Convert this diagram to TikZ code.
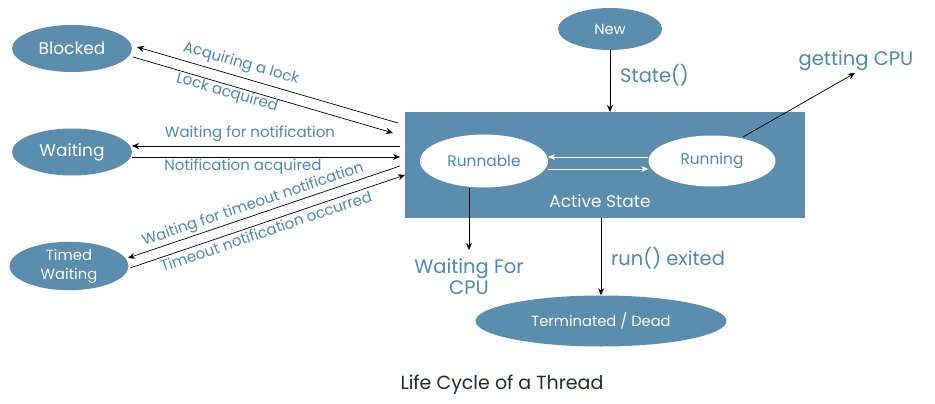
\documentclass[tikz,border=0pt]{standalone}
\usepackage{fontspec}
\setmainfont{Poppins}
\usetikzlibrary{shapes.geometric,arrows.meta}
\definecolor{stateblue}{HTML}{5B8EAE}
\definecolor{labelblue}{HTML}{4C8AB0}
\definecolor{titlecol}{HTML}{1E2B36}
\begin{document}
\begin{tikzpicture}[x=1pt,y=-1pt,
  state/.style={ellipse,fill=stateblue,text=white,inner sep=0pt,align=center,font=\fontsize{17}{19}\selectfont},
  innerstate/.style={ellipse,fill=white,text=labelblue,inner sep=0pt,font=\fontsize{15.4}{17}\selectfont},
  lbl/.style={text=labelblue,inner sep=0pt,font=\fontsize{15}{17}\selectfont},
  big/.style={text=labelblue,inner sep=0pt,align=center,font=\fontsize{19.5}{21}\selectfont},
  arr/.style={-{Stealth[length=7pt,width=6pt]},line width=0.7pt,draw=black},
  warr/.style={-{Stealth[length=7pt,width=6pt]},line width=0.7pt,draw=white}]
\useasboundingbox[fill=white] (0,0) rectangle (935,404);

% active box
\node[fill=stateblue,minimum width=400pt,minimum height=106pt,inner sep=0pt] (box) at (605,165) {};
\node[text=white,inner sep=0pt,font=\fontsize{17}{19}\selectfont] (act) at (600,201) {Active State};

% states
\node[state,minimum width=120pt,minimum height=47pt] (blocked) at (72,48.5) {Blocked};
\node[state,minimum width=120pt,minimum height=47pt] (waiting) at (72,152) {Waiting};
\node[state,minimum width=119pt,minimum height=48pt,font=\fontsize{14.8}{19}\selectfont] (timed) at (69,266) {Timed\\Waiting};
\node[state,minimum width=104pt,minimum height=42pt,font=\fontsize{14.7}{16}\selectfont] (new) at (610,29) {New};
\node[state,minimum width=251pt,minimum height=51pt,font=\fontsize{14.7}{16}\selectfont] (term) at (601,321) {Terminated / Dead};
\node[innerstate,minimum width=128pt,minimum height=53pt] (runnable) at (484,161) {Runnable};
\node[innerstate,minimum width=127pt,minimum height=51pt] (running) at (712,161) {Running};

% coordinates on box edge / free ends
\coordinate (bA) at (398,123);
\coordinate (bB) at (393,133);
\coordinate (wA) at (400,146);
\coordinate (wB) at (400,157);
\coordinate (tA) at (400,166);
\coordinate (tB) at (405,175);
\coordinate (boxtop) at (610,112);
\coordinate (rtop) at (743,137);
\coordinate (cpu) at (855,73);
\coordinate (wcpu) at (469,250);
\coordinate (boxbot) at (601,218);

% left arrows
\draw[arr] (bA) -- (137,47);
\draw[arr] (133,57) -- (bB);
\draw[arr] (wA) -- (132,146);
\draw[arr] (132,157) -- (wB);
\draw[arr] (tA) -- (128,258);
\draw[arr] (130,268) -- (tB);

\node[lbl,rotate=-16] (l1) at (241,64) {Acquiring a lock};
\node[lbl,rotate=-16] (l2) at (227,93) {Lock acquired};
\node[lbl] (l3) at (250,134) {Waiting for notification};
\node[lbl] (l4) at (243,167) {Notification acquired};
\node[lbl,rotate=18.7] (l5) at (253,205) {Waiting for timeout notification};
\node[lbl,rotate=18.7] (l6) at (266,231) {Timeout notification occurred};

% inner arrows
\draw[warr] (running.west |- 0,157) -- (runnable.east |- 0,157);
\draw[warr] (runnable.east |- 0,169) -- (running.west |- 0,169);

% other arrows
\draw[arr] (new) -- (boxtop);
\node[big,anchor=west] (st) at (620,75) {State()};
\draw[arr] (rtop) -- (cpu);
\node[big] (gc) at (856,61) {getting CPU};
\draw[arr] (runnable.south -| 469,0) -- (wcpu);
\node[big] (wf) at (469,277) {Waiting For\\CPU};
\draw[arr] (boxbot) -- (term);
\node[big,anchor=west] (re) at (611,258) {run() exited};

\node[text=titlecol,inner sep=0pt,font=\fontsize{19}{21}\selectfont] (title) at (502,385) {Life Cycle of a Thread};
\end{tikzpicture}
\end{document}
